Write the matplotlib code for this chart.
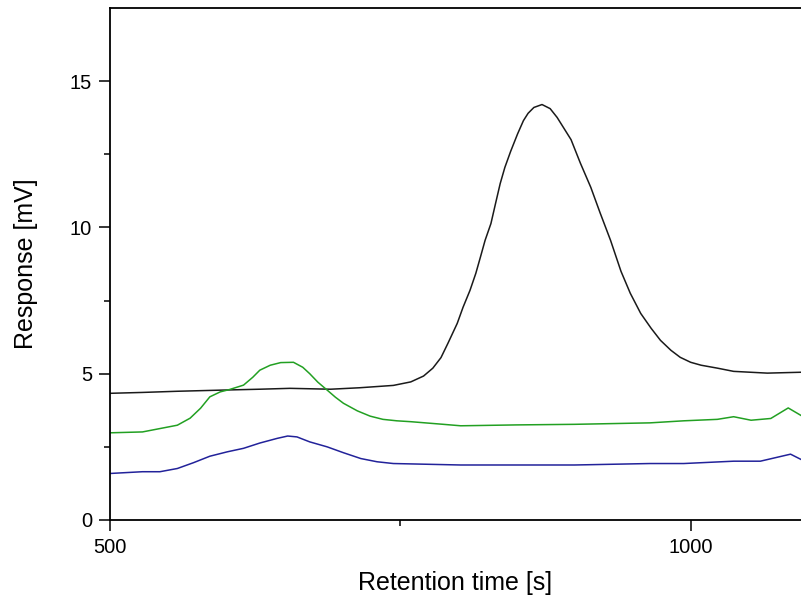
import matplotlib
matplotlib.use("Agg")
import matplotlib.pyplot as plt
import matplotlib.ticker as mticker
import numpy as np

plt.rcParams.update({
    "font.family": "sans-serif",
    "font.sans-serif": ["Liberation Sans", "DejaVu Sans"],
    "axes.linewidth": 1.3,
})

# Chromatograms (time [s], response [mV])
t_black = [500, 528, 558, 597, 629, 655, 690, 715, 744, 759, 770, 778, 785, 791,
           799, 804, 810, 815, 819, 823, 828, 832, 836, 840, 845, 851, 856, 860, 865,
           872, 879, 885, 897, 905, 914, 922, 931, 940, 948, 957, 966, 974, 983, 991,
           1000, 1009, 1023, 1037, 1066, 1095]
y_black = [4.33, 4.36, 4.40, 4.44, 4.47, 4.50, 4.47, 4.52, 4.60, 4.72, 4.92, 5.19, 5.55, 6.04,
           6.72, 7.27, 7.85, 8.43, 8.99, 9.56, 10.13, 10.82, 11.5, 12.05, 12.6, 13.2, 13.65, 13.9, 14.1,
           14.2, 14.06, 13.76, 13.0, 12.2, 11.37, 10.5, 9.56, 8.5, 7.75, 7.06, 6.55, 6.14, 5.8, 5.56,
           5.39, 5.29, 5.19, 5.08, 5.02, 5.05]

t_green = [500, 528, 558, 569, 578, 586, 595, 603, 615, 623, 629, 638, 647, 658, 666,
           672, 679, 687, 694, 701, 713, 724, 735, 747, 759, 787, 802, 850, 900, 965,
           994, 1023, 1037, 1052, 1069, 1084, 1096]
y_green = [2.98, 3.01, 3.24, 3.48, 3.82, 4.21, 4.38, 4.46, 4.61, 4.88, 5.12, 5.29, 5.38, 5.39, 5.22,
           5.00, 4.71, 4.44, 4.20, 3.99, 3.73, 3.55, 3.44, 3.39, 3.36, 3.27, 3.22, 3.25, 3.27, 3.32,
           3.39, 3.44, 3.53, 3.41, 3.47, 3.83, 3.55]

t_blue = [500, 528, 543, 558, 572, 586, 601, 615, 629, 644, 653, 661, 672, 687, 701,
          716, 730, 744, 802, 850, 900, 965, 994, 1037, 1060, 1086, 1096]
y_blue = [1.59, 1.65, 1.65, 1.76, 1.96, 2.18, 2.33, 2.45, 2.63, 2.79, 2.87, 2.84, 2.67, 2.50, 2.30,
          2.10, 1.99, 1.93, 1.88, 1.88, 1.88, 1.93, 1.93, 2.01, 2.01, 2.25, 2.05]

fig = plt.figure(figsize=(8.01, 6.05), dpi=100)
ax = fig.add_axes([0.1373, 0.1405, 0.8627, 0.8463])

ax.plot(t_black, y_black, color="#1a1a1a", lw=1.1)
ax.plot(t_green, y_green, color="#22a022", lw=1.1)
ax.plot(t_blue, y_blue, color="#22229a", lw=1.1)

ax.set_xlim(500, 1095)
ax.set_ylim(0, 17.5)
ax.spines["right"].set_visible(False)

ax.xaxis.set_major_locator(mticker.FixedLocator([500, 1000]))
ax.xaxis.set_minor_locator(mticker.FixedLocator([750]))
ax.yaxis.set_major_locator(mticker.MultipleLocator(5))
ax.yaxis.set_minor_locator(mticker.FixedLocator([2.5, 7.5, 12.5]))
ax.tick_params(which="major", direction="out", length=8, width=1.1, labelsize=14.5, pad=5)
ax.tick_params(which="minor", direction="out", length=4, width=1.1)

ax.set_xlabel("Retention time [s]", fontsize=18, labelpad=10)
ax.set_ylabel("Response [mV]", fontsize=18, labelpad=23)

fig.savefig("out.png", dpi=100)
